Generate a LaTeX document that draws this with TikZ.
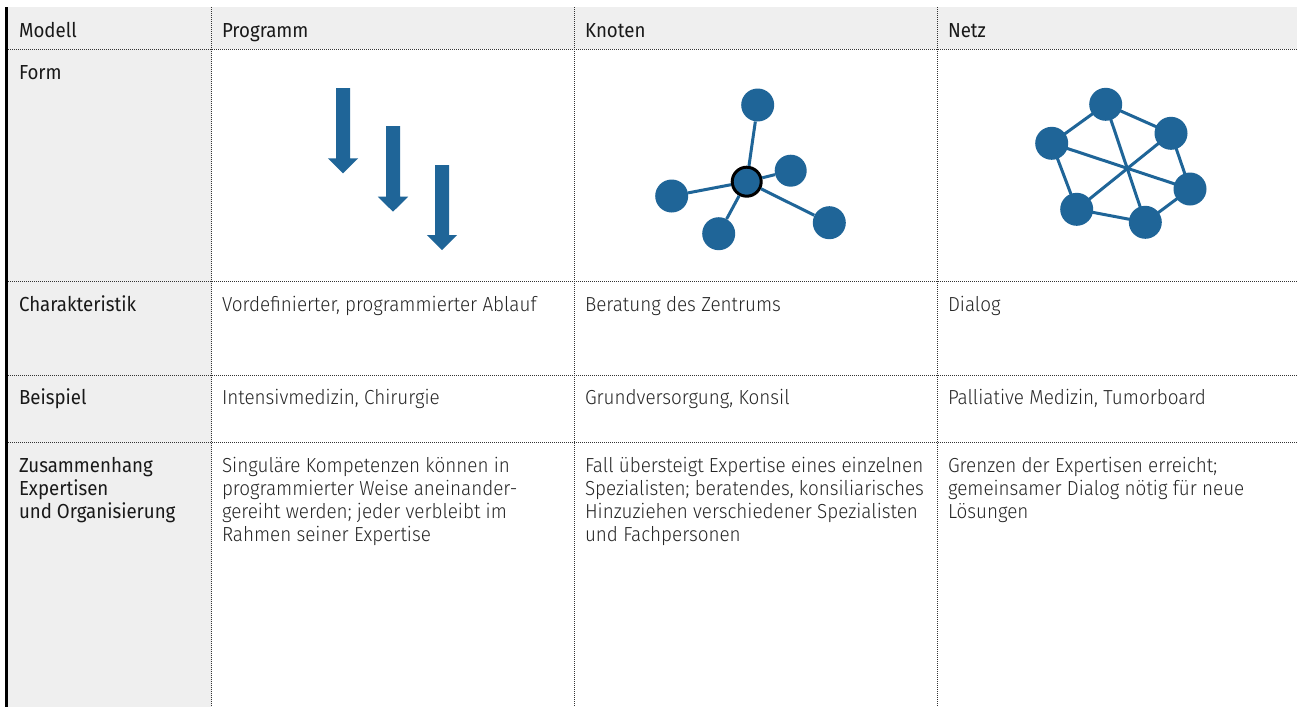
\documentclass[tikz,border=0pt]{standalone}
\usepackage{fontspec}
\setmainfont{Fira Sans}[FakeStretch=0.92]
\newfontfamily\lightfont{Fira Sans Light}[FakeStretch=0.93]
\definecolor{nodeblue}{HTML}{1F6598}
\definecolor{cellgray}{HTML}{EFEFEF}
\definecolor{gridgray}{HTML}{333333}
\newcommand\hdfont{\fontsize{20.3}{23}\selectfont\rmfamily}
\newcommand\bdfont{\fontsize{20.3}{23}\selectfont\lightfont}
\tikzset{
  hd/.style={anchor=north west, inner sep=0pt, outer sep=0pt, font=\hdfont, align=left, text=black!90},
  bd/.style={anchor=north west, inner sep=0pt, outer sep=0pt, font=\bdfont, align=left, text=black!85},
  grid/.style={draw=gridgray, line width=1pt, dash pattern=on 1pt off 1pt},
  bluedot/.style={circle, fill=nodeblue, minimum size=33pt, inner sep=0pt},
  hubdot/.style={circle, fill=nodeblue, draw=black, line width=3pt, minimum size=29pt, inner sep=0pt},
  edge/.style={draw=nodeblue, line width=3pt},
  arrowshape/.style={fill=nodeblue},
}
\begin{document}
\begin{tikzpicture}[x=1pt,y=-1pt]
\useasboundingbox (0,0) rectangle (1297,707);
% backgrounds
\fill[white] (0,0) rectangle (1297,707);
\fill[cellgray] (8,7) rectangle (1297,49);
\fill[cellgray] (8,7) rectangle (211.5,707);
% grid
\foreach \yy in {49,281.7,375,442} {\draw[grid] (8,\yy) -- (1297,\yy);}
\foreach \xx in {211.5,574.3,937} {\draw[grid] (\xx,7) -- (\xx,707);}
\draw[black, line width=3pt] (6.5,7) -- (6.5,707);

% header texts (baseline - 16.1)
\node[hd] (hModell) at (19,21.4) {\strut Modell};
\node[hd] (hProg) at (222,21.4) {\strut Programm};
\node[hd] (hKnot) at (585,21.4) {\strut Knoten};
\node[hd] (hNetz) at (948,21.4) {\strut Netz};

% left column
\node[hd] (lForm) at (19,62.9) {\strut Form};
\node[hd] (lChar) at (19,295.6) {\strut Charakteristik};
\node[hd] (lBsp) at (19,388.4) {\strut Beispiel};
\node[hd] (lZus) at (19,455.9) {\strut Zusammenhang\\Expertisen\\und Organisierung};

% Charakteristik row
\node[bd] (c1) at (222,295.6) {\strut Vordefinierter, programmierter Ablauf};
\node[bd] (c2) at (585,295.6) {\strut Beratung des Zentrums};
\node[bd] (c3) at (948,295.6) {\strut Dialog};

% Beispiel row
\node[bd] (b1) at (222,388.4) {\strut Intensivmedizin, Chirurgie};
\node[bd] (b2) at (585,388.4) {\strut Grundversorgung, Konsil};
\node[bd] (b3) at (948,388.4) {\strut Palliative Medizin, Tumorboard};

% Zusammenhang row
\node[bd] (z1) at (222,455.9) {\strut Singuläre Kompetenzen können in\\programmierter Weise aneinander-\\gereiht werden; jeder verbleibt im\\Rahmen seiner Expertise};
\node[bd] (z2) at (585,455.9) {\strut Fall übersteigt Expertise eines einzelnen\\Spezialisten; beratendes, konsiliarisches\\Hinzuziehen verschiedener Spezialisten\\und Fachpersonen};
\node[bd] (z3) at (948,455.9) {\strut Grenzen der Expertisen erreicht;\\gemeinsamer Dialog nötig für neue\\Lösungen};

% Programm arrows
\foreach \cx/\top/\hb in {343/88/158.3, 393/126/196.7, 442/165/235} {
  \fill[arrowshape] (\cx-7,\top) -- (\cx+7,\top) -- (\cx+7,\hb) -- (\cx+15.2,\hb)
     -- (\cx,\hb+15) -- (\cx-15.2,\hb) -- (\cx-7,\hb) -- cycle;
}

% Knoten diagram
\node[bluedot] (kTop) at (757.7,105) {};
\node[bluedot, minimum size=32pt] (kRS) at (790.7,170.7) {};
\node[bluedot] (kL) at (671.7,196) {};
\node[bluedot] (kB) at (718.7,233.7) {};
\node[bluedot] (kBR) at (829.3,222.7) {};
\node[hubdot] (kC) at (746.7,181.7) {};
\draw[edge] (kC) -- (kTop);
\draw[edge] (kC) -- (kRS);
\draw[edge] (kC) -- (kL);
\draw[edge] (kC) -- (kB);
\draw[edge] (kC) -- (kBR);

% Netz diagram
\coordinate (pT) at (1105.7,104.3);
\coordinate (pL) at (1051.7,143.3);
\coordinate (pRT) at (1171,133.3);
\coordinate (pR) at (1190,189);
\coordinate (pBL) at (1076.7,209.3);
\coordinate (pB) at (1145.3,222.3);
\draw[edge] (pT) -- (pL) -- (pBL) -- (pB) -- (pR) -- (pRT) -- cycle;
\draw[edge] (pT) -- (pB);
\draw[edge] (pL) -- (pR);
\draw[edge] (pBL) -- (pRT);
\node[bluedot] (nT) at (pT) {};
\node[bluedot] (nL) at (pL) {};
\node[bluedot] (nRT) at (pRT) {};
\node[bluedot] (nR) at (pR) {};
\node[bluedot] (nBL) at (pBL) {};
\node[bluedot] (nB) at (pB) {};
\end{tikzpicture}
\end{document}
